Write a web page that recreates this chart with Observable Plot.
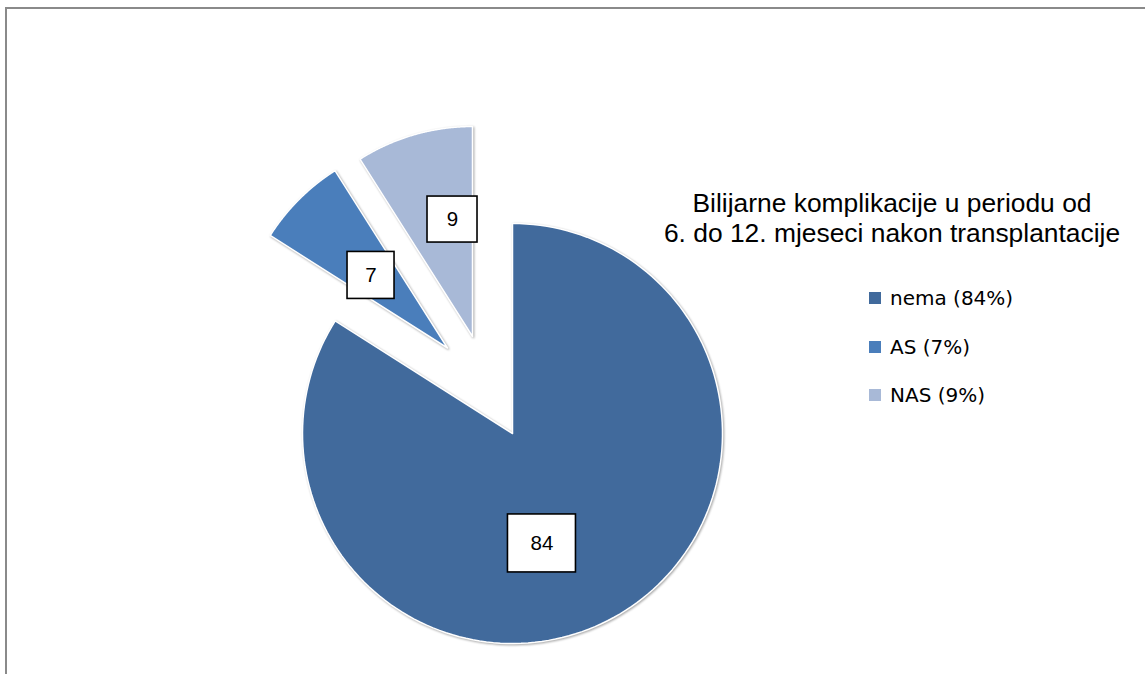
<!DOCTYPE html>
<html>
<head>
<meta charset="utf-8">
<script src="https://cdn.jsdelivr.net/npm/d3@7"></script>
<script src="https://cdn.jsdelivr.net/npm/@observablehq/plot@0.6"></script>
<style>
  body { margin: 0; background: #fff; overflow: hidden; }
  #wrap { position: relative; width: 1145px; height: 674px; overflow: hidden; }
  #frame { position: absolute; left: 5px; top: 7px; width: 1200px; height: 700px;
           border-top: 2px solid #8a8a8a; border-left: 2px solid #8a8a8a; pointer-events: none; }
  #title { position: absolute; left: 637px; width: 510px; top: 188px; text-align: center;
           font-family: "Liberation Sans", Arial, sans-serif; font-size: 26.4px; line-height: 30px; color: #000; }
  #legend { position: absolute; left: 869px; top: 274px;
            font-family: "DejaVu Sans", sans-serif; font-size: 20px; color: #000; }
  .item { display: flex; align-items: center; height: 48.5px; }
  .sw { width: 12px; height: 12px; margin-right: 9px; flex: none; }
</style>
</head>
<body>
<div id="wrap">
  <div id="chart"></div>
  <div id="title">Bilijarne komplikacije u periodu od<br>6. do 12. mjeseci nakon transplantacije</div>
  <div id="legend"></div>
  <div id="frame"></div>
</div>
<script>
// ---- data ----
const categories = ["nema", "AS", "NAS"];
const values = [84, 7, 9];
const legendLabels = ["nema (84%)", "AS (7%)", "NAS (9%)"];
const colors = ["#416a9c", "#4a7ebb", "#a8b9d7"];

// ---- layout (pixels per unit radius, explode offsets, label placement) ----
const PX = 210;
const layout = {
  nema: { ex: 0, ey: 0, labelShift: 13.8, labelR: 0.542, w: 68, h: 58 },
  AS:   { ex: -65 / PX, ey: 85.5 / PX, labelShift: -1.5, labelR: 0.502, w: 47, h: 47 },
  NAS:  { ex: -40 / PX, ey: 97 / PX, labelShift: 6.5, labelR: 0.565, w: 50, h: 46 }
};

const pie = d3.pie().sort(null).value(d => d.value).startAngle(0).endAngle(2 * Math.PI);
const rows = categories.map((c, i) => ({ name: c, value: values[i], color: colors[i] }));
const arcs = pie(rows);

// polygon outline of each slice (unit circle, y up, angle clockwise from top)
const poly = [];
const labels = [];
arcs.forEach(a => {
  const L = layout[a.data.name];
  const ox = L.ex, oy = L.ey;
  poly.push({ name: a.data.name, x: ox, y: oy });
  const n = 160;
  for (let k = 0; k <= n; k++) {
    const t = a.startAngle + (a.endAngle - a.startAngle) * k / n;
    poly.push({ name: a.data.name, x: ox + Math.sin(t), y: oy + Math.cos(t) });
  }
  poly.push({ name: a.data.name, x: ox, y: oy });
  const mid = (a.startAngle + a.endAngle) / 2 + L.labelShift * Math.PI / 180;
  const cx = ox + L.labelR * Math.sin(mid), cy = oy + L.labelR * Math.cos(mid);
  labels.push({
    name: a.data.name, text: String(a.data.value), x: cx, y: cy,
    x1: cx - L.w / 2 / PX, x2: cx + L.w / 2 / PX, y1: cy - L.h / 2 / PX, y2: cy + L.h / 2 / PX
  });
});

const cxPx = 512, cyPx = 433, W = 1145, H = 674;
const chart = Plot.plot({
  width: W, height: H, margin: 0,
  x: { domain: [-cxPx / PX, (W - cxPx) / PX], axis: null },
  y: { domain: [-(H - cyPx) / PX, cyPx / PX], axis: null },
  color: { domain: categories, range: colors },
  marks: [
    Plot.line(poly, { x: "x", y: "y", z: "name", fill: "name", stroke: "white", strokeWidth: 1.5, curve: "linear" }),
    Plot.rect(labels, { x1: "x1", x2: "x2", y1: "y1", y2: "y2", fill: "white", stroke: "black", strokeWidth: 1.6 }),
    Plot.text(labels, { x: "x", y: "y", text: "text", fontSize: 20.5, fill: "black",
                        fontFamily: "Liberation Sans, Arial, sans-serif" })
  ]
});
d3.select(chart).selectAll('g[aria-label="line"]')
  .style("filter", "drop-shadow(1px 1px 1.2px rgba(0,0,0,0.35))");
document.getElementById("chart").appendChild(chart);

// legend
const leg = d3.select("#legend");
categories.forEach((c, i) => {
  const it = leg.append("div").attr("class", "item");
  it.append("div").attr("class", "sw").style("background", colors[i]);
  it.append("span").text(legendLabels[i]);
});
</script>
</body>
</html>
